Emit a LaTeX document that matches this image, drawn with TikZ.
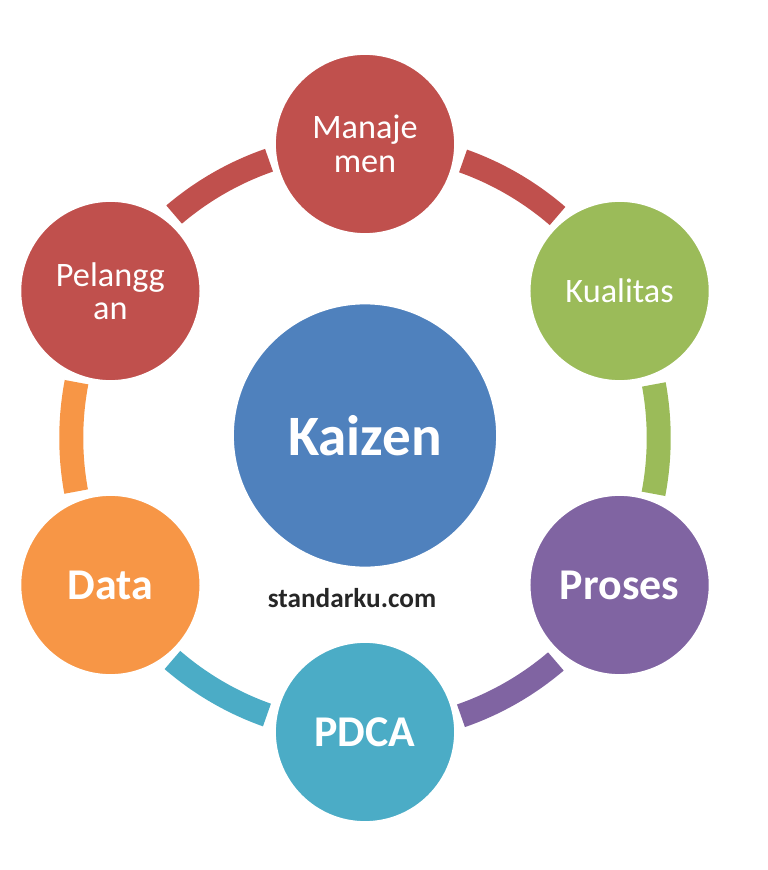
\documentclass[tikz,border=0pt]{standalone}
\usepackage{fontspec}
\setmainfont{Carlito}
\definecolor{kred}{HTML}{C0504D}
\definecolor{kgreen}{HTML}{9BBB59}
\definecolor{kpurple}{HTML}{8064A2}
\definecolor{kteal}{HTML}{4BACC6}
\definecolor{korange}{HTML}{F79646}
\definecolor{kblue}{HTML}{4F81BD}
\begin{document}
\begin{tikzpicture}[
		bubble/.style={circle, fill=#1, draw=white, line width=1pt, minimum size=3.6cm, inner sep=0pt, text=white, align=center},
		thin label/.style={font=\fontsize{19.5}{19}\selectfont},
		bold label/.style={font=\fontsize{25}{28}\selectfont\bfseries},
		ring/.style={draw=#1, line width=0.48cm, dash pattern=on 2.2cm off 5cm, dash phase=5.2cm, bend left=30, looseness=0.91}
	]
		\useasboundingbox (-7.30,-8.64) rectangle (8.06,8.76);
		\node[bubble=kblue, minimum size=5.28cm, font=\fontsize{32.5}{36}\selectfont\bfseries] (kaizen) at (0,0.05) {Kaizen};
		\node[bubble=kred, thin label] (manajemen) at (90:5.88) {Manaje\\men};
		\node[bubble=kgreen, thin label] (kualitas) at (30:5.88) {Kualitas};
		\node[bubble=kpurple, bold label] (proses) at (-30:5.88) {Proses};
		\node[bubble=kteal, bold label] (pdca) at (-90:5.88) {PDCA};
		\node[bubble=korange, bold label] (data) at (210:5.88) {Data};
		\node[bubble=kred, thin label] (pelanggan) at (150:5.88) {Pelangg\\an};
		\node[text=black!85, font=\fontsize{15.5}{18}\selectfont\bfseries] (web) at (-0.26,-3.2) {standarku.com};
		\draw [ring=kred] (manajemen.center) to (kualitas.center);
		\draw [ring=kgreen] (kualitas.center) to (proses.center);
		\draw [ring=kpurple] (proses.center) to (pdca.center);
		\draw [ring=kteal] (pdca.center) to (data.center);
		\draw [ring=korange] (data.center) to (pelanggan.center);
		\draw [ring=kred] (pelanggan.center) to (manajemen.center);
	\end{tikzpicture}
\end{document}
